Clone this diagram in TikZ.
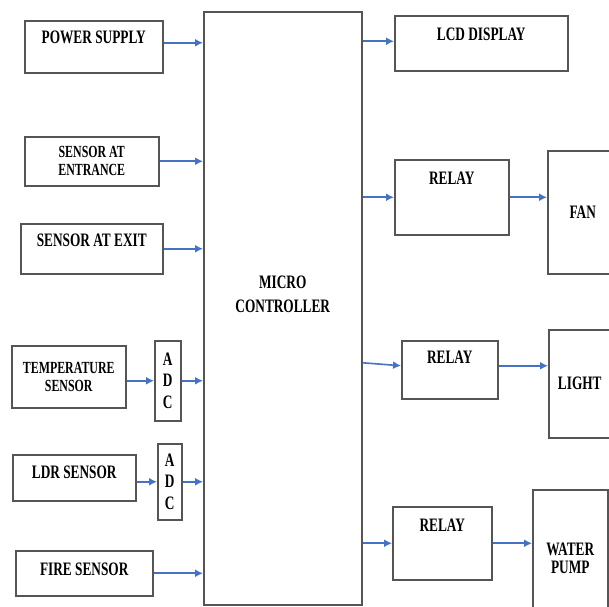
\documentclass[tikz,border=0pt]{standalone}
\usepackage{fontspec}
\newfontfamily\blockfont{Liberation Serif}[FakeStretch=0.7]
\usetikzlibrary{arrows.meta}
\definecolor{boxgray}{HTML}{555555}
\definecolor{arrowblue}{HTML}{4472C4}

\begin{document}
\begin{tikzpicture}[x=1pt, y=-1pt]

  \tikzstyle{block} = [rectangle, draw=boxgray, line width=1.5pt, inner sep=0pt, anchor=north west, align=center, font=\blockfont\bfseries\fontsize{19}{18}\selectfont];
  \tikzstyle{twoline} = [font=\blockfont\bfseries\fontsize{17}{18}\selectfont];
  \tikzstyle{sig} = [draw=arrowblue, line width=1.6pt, -{Latex[length=8pt,width=8pt]}];

  \useasboundingbox (0,0) rectangle (609,606);
  \clip (0,0) rectangle (609,606);

  % inputs
  \node[block, minimum width=138, minimum height=52, text height=23, text depth=29] (supply) at (24,20) {POWER SUPPLY};
  \node[block, twoline, minimum width=134, minimum height=49] (entry) at (24,136) {SENSOR AT\\ENTRANCE};
  \node[block, minimum width=142, minimum height=50, text height=23, text depth=27] (exit) at (20,223) {SENSOR AT EXIT};
  \node[block, twoline, minimum width=114, minimum height=62] (temp) at (11,345) {TEMPERATURE\\SENSOR};
  \node[block, minimum width=26, minimum height=80, font=\blockfont\bfseries\fontsize{19}{21.5}\selectfont] (adcA) at (154,340) {A\\D\\C};
  \node[block, minimum width=123, minimum height=46, text height=24, text depth=22] (ldr) at (12,454) {LDR SENSOR};
  \node[block, minimum width=24, minimum height=76, font=\blockfont\bfseries\fontsize{19}{21.5}\selectfont] (adcB) at (157,443) {A\\D\\C};
  \node[block, minimum width=137, minimum height=45, text height=25, text depth=20] (fire) at (15,550) {FIRE SENSOR};

  % controller
  \node[block, minimum width=158, minimum height=593, text height=277, text depth=316, font=\blockfont\bfseries\fontsize{19}{24}\selectfont] (mcu) at (203,11) {\begin{tabular}[t]{@{}c@{}}MICRO\\CONTROLLER\end{tabular}};

  % outputs
  \node[block, minimum width=173, minimum height=55, text height=25, text depth=30] (lcd) at (394,15) {LCD DISPLAY};
  \node[block, minimum width=114, minimum height=75, text height=25, text depth=50] (relayA) at (394,159) {RELAY};
  \node[block, minimum width=70, minimum height=123] (fan) at (547,150) {FAN};
  \node[block, minimum width=96, minimum height=58, text height=23, text depth=35] (relayB) at (401,340) {RELAY};
  \node[block, minimum width=62, minimum height=108] (light) at (548,329) {LIGHT};
  \node[block, minimum width=99, minimum height=73, text height=25, text depth=48] (relayC) at (392,506) {RELAY};
  \node[block, minimum width=75, minimum height=138] (pump) at (532,489) {WATER\\PUMP};

  % signals into the controller
  \draw[sig] ([yshift=4pt]supply.east) -- ([yshift=4pt]supply.east -| mcu.west);
  \draw[sig] (entry.east) -- (entry.east -| mcu.west);
  \draw[sig] (exit.east) -- (exit.east -| mcu.west);
  \draw[sig] (adcA.west -| temp.east) -- (adcA.west);
  \draw[sig] (adcA.east) -- (adcA.east -| mcu.west);
  \draw[sig] (adcB.west -| ldr.east) -- (adcB.west);
  \draw[sig] (adcB.east) -- (adcB.east -| mcu.west);
  \draw[sig] (fire.east) -- (fire.east -| mcu.west);

  % signals out of the controller
  \draw[sig] ([yshift=2pt]lcd.west -| mcu.east) -- ([yshift=2pt]lcd.west);
  \draw[sig] (relayA.west -| mcu.east) -- (relayA.west);
  \draw[sig] (relayA.east) -- (relayA.east -| fan.west);
  \draw[sig] ([yshift=7pt]relayB.west -| mcu.east) -- ([yshift=4pt]relayB.west);
  \draw[sig] ([yshift=4pt]relayB.east) -- ([yshift=4pt]relayB.east -| light.west);
  \draw[sig] (relayC.west -| mcu.east) -- (relayC.west);
  \draw[sig] (relayC.east) -- (relayC.east -| pump.west);
\end{tikzpicture}
\end{document}
